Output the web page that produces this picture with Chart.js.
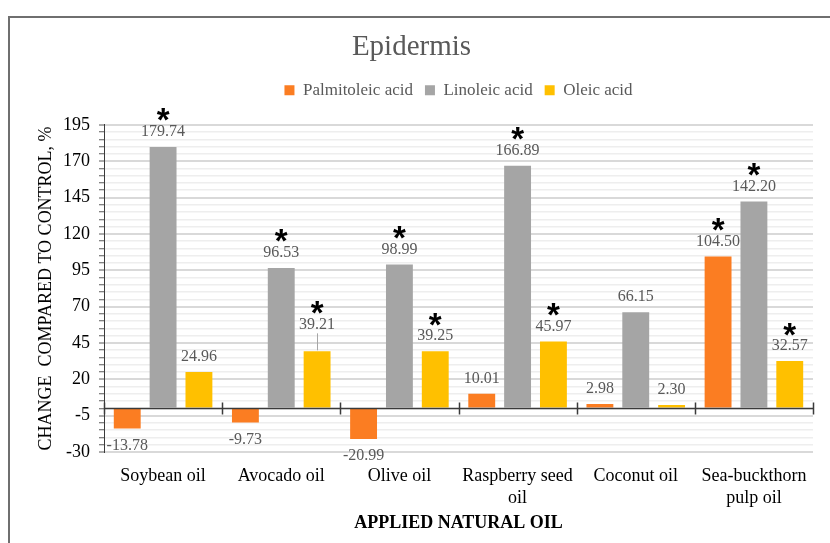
<!DOCTYPE html>
<html>
<head>
<meta charset="utf-8">
<title>Epidermis</title>
<script src="https://cdn.jsdelivr.net/npm/chart.js@4.4.1/dist/chart.umd.min.js"></script>
<style>
  html, body { margin: 0; padding: 0; background: #fff; }
  body { width: 830px; height: 543px; overflow: hidden; position: relative; }
  #frame {
    position: absolute; left: 8px; top: 16px;
    width: 830px; height: 540px;
    border: 2px solid #6f6f6f;
  }
  canvas { display: block; }
</style>
</head>
<body>
<div id="frame"><canvas id="chart" width="822" height="527"></canvas></div>
<script>
// --- data ---
const oils = ['Soybean oil', 'Avocado oil', 'Olive oil', ['Raspberry seed', 'oil'], 'Coconut oil', ['Sea-buckthorn', 'pulp oil']];
const palmitoleic = [-13.78, -9.73, -20.99, 10.01, 2.98, 104.50];
const linoleic = [179.74, 96.53, 98.99, 166.89, 66.15, 142.20];
const oleic = [24.96, 39.21, 39.25, 45.97, 2.30, 32.57];
// significance markers (*)
const palmitoleicSig = [false, false, false, false, false, true];
const linoleicSig = [true, true, true, true, false, true];
const oleicSig = [false, true, true, true, false, true];

const yMajorTicks = [-30, -5, 20, 45, 70, 95, 120, 145, 170, 195];
const yMinorStep = 5;

const SERIF = "'Liberation Serif', 'Times New Roman', serif";
const LEGEND_GAP = 16;

// labels that Excel pushed up with a leader line: "dataset:index" -> px
const labelLift = { '2:1': 12 };

// empty box under the legend so the plot starts lower
const legendGap = {
  id: 'legendGap',
  beforeInit(chart) {
    Chart.layouts.addBox(chart, {
      position: 'top', weight: 500, fullSize: false,
      options: {},
      top: 0, left: 0, right: 0, bottom: 0, width: 0, height: 0,
      isHorizontal() { return true; },
      getPadding() { return { top: 0, left: 0, right: 0, bottom: 0 }; },
      update(maxWidth) { this.width = maxWidth; this.height = LEGEND_GAP; },
      draw() {}
    });
  }
};

// category axis drawn through zero, with tick marks between groups
const zeroAxis = {
  id: 'zeroAxis',
  afterDatasetsDraw(chart) {
    const { ctx, chartArea, scales } = chart;
    const y0 = Math.round(scales.y.getPixelForValue(0)) + 0.5;
    const n = oils.length;
    const step = (chartArea.right - chartArea.left) / n;
    ctx.save();
    ctx.strokeStyle = '#3a3a3a';
    ctx.lineWidth = 1.5;
    ctx.beginPath();
    ctx.moveTo(chartArea.left, y0);
    ctx.lineTo(chartArea.right, y0);
    for (let i = 0; i <= n; i++) {
      const x = Math.round(chartArea.left + i * step) + 0.5;
      ctx.moveTo(x, y0 - 6);
      ctx.lineTo(x, y0 + 6);
    }
    ctx.stroke();
    ctx.restore();
  }
};

// value labels and asterisks
const valueLabels = {
  id: 'valueLabels',
  afterDatasetsDraw(chart) {
    const { ctx } = chart;
    const sigs = [palmitoleicSig, linoleicSig, oleicSig];
    ctx.save();
    chart.data.datasets.forEach((ds, di) => {
      const meta = chart.getDatasetMeta(di);
      meta.data.forEach((bar, i) => {
        const v = ds.data[i];
        const lift = labelLift[di + ':' + i] || 0;
        const ly = v >= 0 ? bar.y - 15 - lift : bar.y + 17;
        ctx.font = '16px ' + SERIF;
        ctx.fillStyle = '#595959';
        ctx.textAlign = 'center';
        ctx.textBaseline = 'middle';
        ctx.fillText(v.toFixed(2), bar.x, ly);
        if (lift) {
          ctx.strokeStyle = '#a6a6a6';
          ctx.lineWidth = 1;
          ctx.beginPath();
          ctx.moveTo(Math.round(bar.x) + 0.5, bar.y - 1);
          ctx.lineTo(Math.round(bar.x) + 0.5, ly + 9);
          ctx.stroke();
        }
        if (sigs[di][i]) {
          ctx.font = 'bold 33px "Liberation Sans", Arial, sans-serif';
          ctx.fillStyle = '#000';
          ctx.textBaseline = 'alphabetic';
          const m = ctx.measureText('*');
          const cy = ly - 17;
          const base = cy + (m.actualBoundingBoxAscent - m.actualBoundingBoxDescent) / 2;
          ctx.fillText('*', bar.x, base);
        }
      });
    });
    ctx.restore();
  }
};

new Chart(document.getElementById('chart'), {
  type: 'bar',
  data: {
    labels: oils,
    datasets: [
      { label: 'Palmitoleic acid', data: palmitoleic, backgroundColor: '#fb7d22' },
      { label: 'Linoleic acid', data: linoleic, backgroundColor: '#a5a5a5' },
      { label: 'Oleic acid', data: oleic, backgroundColor: '#ffc000' }
    ]
  },
  options: {
    responsive: false,
    animation: false,
    devicePixelRatio: 1,
    categoryPercentage: 0.91,
    barPercentage: 0.75,
    layout: { padding: { left: 0, right: 19, top: 0, bottom: 0 } },
    plugins: {
      title: {
        display: true,
        text: 'Epidermis',
        color: '#595959',
        font: { family: SERIF, size: 29, weight: 'normal', lineHeight: 1.2 },
        padding: { top: 12, bottom: 5 }
      },
      legend: {
        display: true,
        position: 'top',
        fullSize: false,
        labels: {
          color: '#595959',
          font: { family: SERIF, size: 17 },
          boxWidth: 10,
          boxHeight: 10,
          padding: 12
        }
      },
      tooltip: { enabled: false }
    },
    scales: {
      x: {
        type: 'category',
        grid: { display: false, drawTicks: false },
        border: { display: false },
        ticks: {
          color: '#000',
          font: { family: SERIF, size: 18, lineHeight: 1.22 },
          padding: 13,
          maxRotation: 0,
          autoSkip: false
        },
        title: {
          display: true,
          text: 'APPLIED NATURAL OIL',
          color: '#000',
          font: { family: SERIF, size: 18, weight: 'bold', lineHeight: 1.2 },
          padding: { top: 0, bottom: 11 }
        },
        afterFit(scale) { scale.height = 93; }
      },
      y: {
        min: -30,
        max: 195,
        afterBuildTicks(scale) {
          const ticks = [];
          for (let v = yMajorTicks[0]; v <= yMajorTicks[yMajorTicks.length - 1]; v += yMinorStep) {
            ticks.push({ value: v });
          }
          scale.ticks = ticks;
        },
        grid: {
          color: ctx => yMajorTicks.includes(ctx.tick.value) ? '#d9d9d9' : '#eeeeee',
          lineWidth: ctx => yMajorTicks.includes(ctx.tick.value) ? 2 : 1.5,
          drawTicks: true,
          tickLength: 5,
          tickColor: '#595959',
          tickWidth: 1
        },
        border: { display: true, color: '#3a3a3a', width: 1 },
        ticks: {
          color: '#000',
          font: { family: SERIF, size: 18 },
          padding: 9,
          autoSkip: false,
          callback: v => yMajorTicks.includes(v) ? String(v) : ''
        },
        title: {
          display: true,
          text: 'CHANGE  COMPARED TO CONTROL, %',
          color: '#000',
          font: { family: SERIF, size: 18, weight: 'normal', lineHeight: 1.2 },
          padding: { top: 25, bottom: 0 }
        },
        afterFit(scale) { scale.width = 94; }
      }
    }
  },
  plugins: [legendGap, zeroAxis, valueLabels]
});
</script>
</body>
</html>
